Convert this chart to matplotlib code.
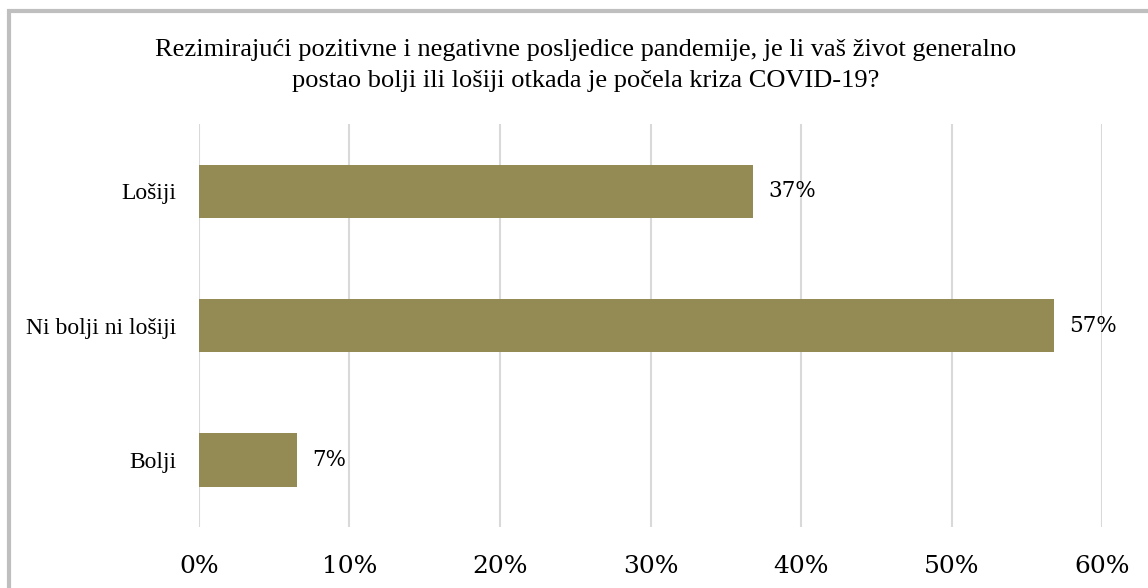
import matplotlib.pyplot as plt
import matplotlib.patches as patches

# data
categories = ['Bolji', 'Ni bolji ni lošiji', 'Lošiji']
values = [6.5, 56.8, 36.8]
labels = ['7%', '57%', '37%']
xticks = [0, 10, 20, 30, 40, 50, 60]
xtick_labels = ['0%', '10%', '20%', '30%', '40%', '50%', '60%']

title = ('Rezimirajući pozitivne i negativne posljedice pandemije, je li vaš život generalno\n'
         'postao bolji ili lošiji otkada je počela kriza COVID-19?')

bar_color = '#948A54'
grid_color = '#D9D9D9'
serif = 'Liberation Serif'
num_serif = 'DejaVu Serif'

fig = plt.figure(figsize=(11.48, 5.88), dpi=100)
ax = fig.add_axes([0.1733, 0.1037, 0.7867, 0.685])

# outer chart border (only top and left are inside the crop)
fig.patches.append(patches.Rectangle((9 / 1148, -0.2), 1.5, 1.2 - 11 / 588,
                                     transform=fig.transFigure, fill=False,
                                     edgecolor='#BFBFBF', linewidth=3))

ax.barh(range(len(categories)), values, height=0.4, color=bar_color, zorder=3)
for i, (v, lab) in enumerate(zip(values, labels)):
    ax.text(v + 1.0, i, lab, va='center', ha='left', fontsize=15.5,
            family=num_serif, color='#000000')

ax.set_xlim(0, 60)
ax.set_ylim(-0.5, 2.5)
ax.set_xticks(xticks)
ax.set_xticklabels(xtick_labels, family=num_serif, fontsize=18)
ax.set_yticks(range(len(categories)))
ax.set_yticklabels(categories, family=serif, fontsize=17)
ax.tick_params(axis='x', length=0, pad=20)
ax.tick_params(axis='y', length=0, pad=16)
ax.grid(axis='x', color=grid_color, linewidth=1.5, zorder=0)
ax.set_axisbelow(True)
for s in ax.spines.values():
    s.set_visible(False)

fig.text(0.51, 0.889, title, ha='center', va='center', fontsize=19,
         family=serif, linespacing=1.5)

plt.savefig('out.png', dpi=100)
plt.close()
